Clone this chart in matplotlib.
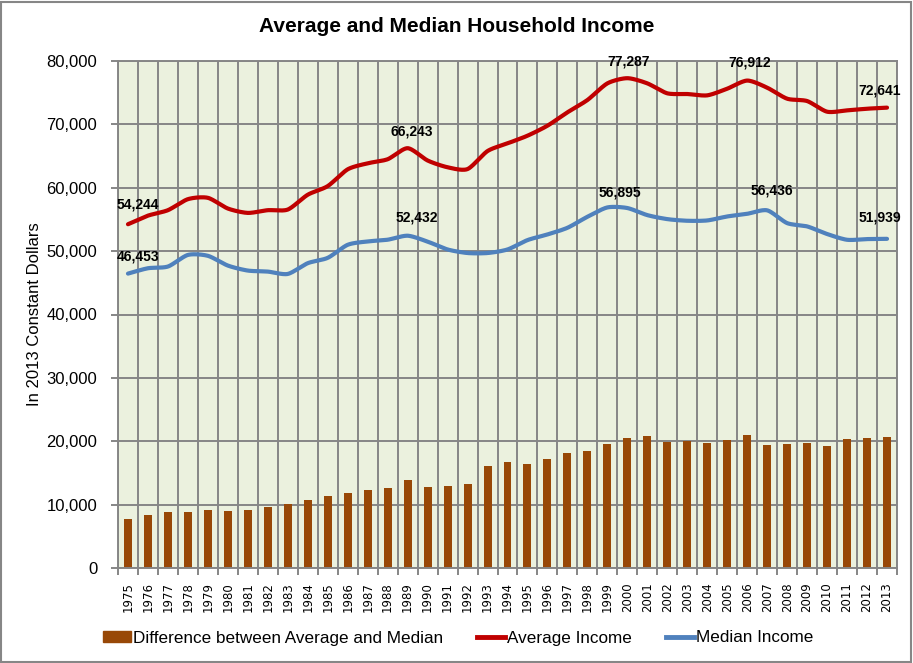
import matplotlib
matplotlib.use('Agg')
import matplotlib.pyplot as plt
from matplotlib.patches import Patch, Rectangle
from matplotlib.lines import Line2D
from matplotlib.ticker import FuncFormatter
import numpy as np

# data (2013 constant dollars)
years = list(range(1975, 2014))
average_income = [54244, 55600, 56460, 58200, 58410, 56720, 56030, 56460, 56560, 58900,
                  60260, 62910, 63860, 64500, 66243, 64300, 63230, 62950, 65790, 67000,
                  68210, 69790, 71900, 73840, 76470, 77287, 76470, 74900, 74790, 74580,
                  75630, 76912, 75790, 74050, 73680, 72000, 72210, 72470, 72641]
median_income = [46453, 47300, 47570, 49400, 49260, 47720, 46930, 46770, 46400, 48100,
                 48940, 51000, 51530, 51800, 52432, 51500, 50260, 49700, 49700, 50260,
                 51740, 52630, 53680, 55420, 56895, 56800, 55680, 55050, 54790, 54840,
                 55470, 55890, 56436, 54420, 53900, 52700, 51790, 51900, 51939]
# labelled points: (year, value, x offset px, y offset px)
avg_labels = [(1975, 54244, 10, 20), (1989, 66243, 4, 17), (2000, 77287, 1, 17),
              (2006, 76912, 2, 18), (2013, 72641, -7, 17)]
med_labels = [(1975, 46453, 10, 17), (1989, 52432, 9, 18), (1999, 56895, 13, 15),
              (2007, 56436, 5, 20), (2013, 51939, -7, 21)]

GRID = '#868686'
RED = '#C00000'
BLUE = '#4F81BD'
BROWN = '#984807'


def smooth(x, y, n=24, k=8.0):
    # excel style smoothed line (bezier through the points)
    p = np.column_stack([x, y]).astype(float)
    out = []
    for i in range(len(p) - 1):
        p0 = p[i - 1] if i > 0 else p[i]
        p1, p2 = p[i], p[i + 1]
        p3 = p[i + 2] if i + 2 < len(p) else p[i + 1]
        c1 = p1 + (p2 - p0) / k
        c2 = p2 - (p3 - p1) / k
        t = np.linspace(0, 1, n)[:, None]
        seg = (1 - t) ** 3 * p1 + 3 * (1 - t) ** 2 * t * c1 + 3 * (1 - t) * t ** 2 * c2 + t ** 3 * p2
        out.append(seg if i == 0 else seg[1:])
    out = np.vstack(out)
    return out[:, 0], out[:, 1]


plt.rcParams['font.family'] = ['Liberation Sans', 'DejaVu Sans']

fig = plt.figure(figsize=(9.13, 6.63), dpi=100)
ax = fig.add_axes([118 / 913, 1 - 568 / 663, (897 - 118) / 913, (568 - 61) / 663])
ax.set_facecolor('#EBF1DE')

diff = np.array(average_income) - np.array(median_income)
ax.bar(years, diff, width=0.4, color=BROWN, zorder=2)

xs, ys = smooth(years, average_income)
ax.plot(xs, ys, color=RED, lw=3, solid_capstyle='round', zorder=3)
xs, ys = smooth(years, median_income)
ax.plot(xs, ys, color=BLUE, lw=3, solid_capstyle='round', zorder=3)

for yr, v, dx, dy in avg_labels + med_labels:
    ax.annotate(f'{v:,}', (yr, v), xytext=(dx, dy), textcoords='offset pixels',
                ha='center', va='center', fontsize=10, fontweight='bold', zorder=4)

ax.set_xlim(1974.5, 2013.5)
ax.set_ylim(0, 80000)
ax.set_yticks(range(0, 80001, 10000))
ax.yaxis.set_major_formatter(FuncFormatter(lambda v, p: f'{int(v):,}'))
ax.set_xticks(years)
ax.set_xticklabels([str(y) for y in years], rotation=90, family='DejaVu Sans', fontsize=8.5)
ax.set_xticks(np.arange(1974.5, 2014, 1), minor=True)

ax.tick_params(axis='x', which='major', length=0, pad=10)
ax.tick_params(axis='x', which='minor', length=5, width=1.4, color=GRID, direction='out')
ax.tick_params(axis='y', length=5, width=1.4, color=GRID, direction='out', pad=10, labelsize=12)

ax.set_axisbelow(True)
ax.grid(axis='y', which='major', color=GRID, lw=1.4)
ax.grid(axis='x', which='minor', color=GRID, lw=1.4)
for s in ax.spines.values():
    s.set_color(GRID)
    s.set_linewidth(1.4)

ax.set_ylabel('In 2013 Constant Dollars', fontsize=12, labelpad=3)
fig.text(456.5 / 913, 1 - 27 / 663, 'Average and Median Household Income',
         ha='center', va='center', fontsize=15, fontweight='bold')

handles = [Patch(color=BROWN), Line2D([], [], color=RED, lw=3.5), Line2D([], [], color=BLUE, lw=3.5)]
fig.legend(handles, ['Difference between Average and Median', 'Average Income', 'Median Income'],
           loc='center', bbox_to_anchor=(458.5 / 913, 1 - 638 / 663), ncol=3, frameon=False,
           fontsize=12.3, handlelength=1.6, handleheight=0.55, handletextpad=0.15, columnspacing=2.0)

fig.add_artist(Rectangle((0.001, 0.0015), 0.997, 0.996, transform=fig.transFigure,
                         fill=False, edgecolor=GRID, lw=1.5))

fig.savefig('out.png', dpi=100)
